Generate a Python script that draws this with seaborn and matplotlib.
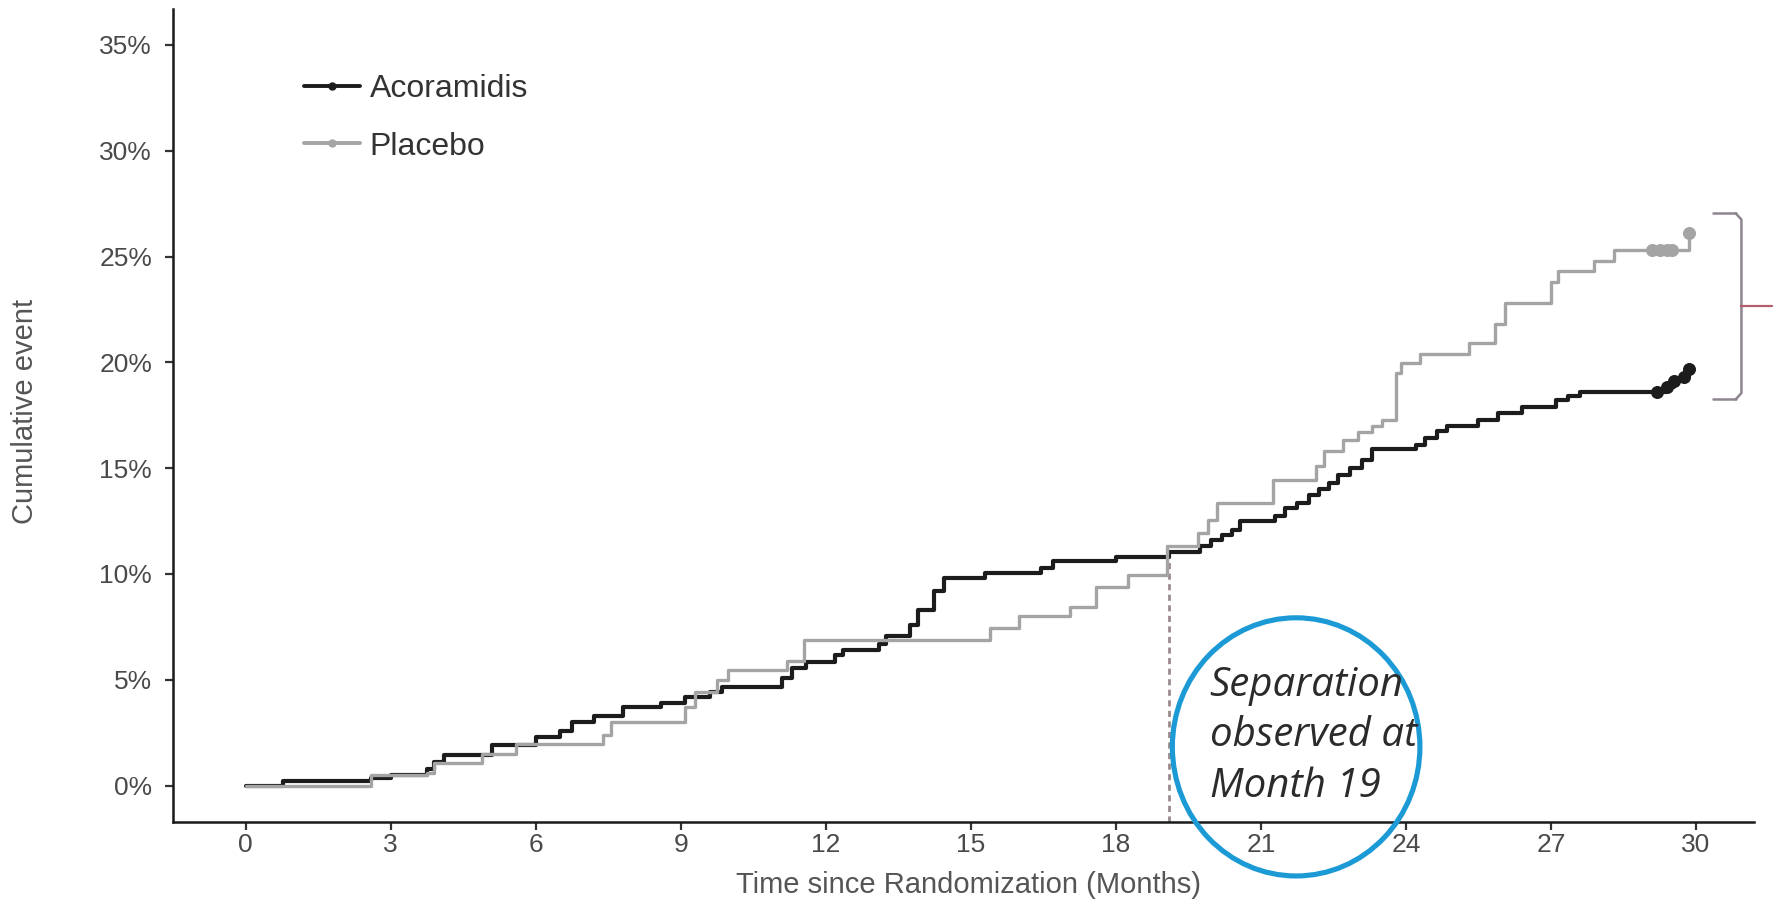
import numpy as np
import pandas as pd
import matplotlib
matplotlib.use("Agg")
import matplotlib.pyplot as plt
from matplotlib.patches import Ellipse
from matplotlib.lines import Line2D
from matplotlib.ticker import FuncFormatter
import seaborn as sns

# Kaplan-Meier cumulative event curves (months, cumulative %)
acor_months = [0, 0.77, 2.6, 3.0, 3.75, 3.9, 4.1, 5.1, 6.0, 6.5, 6.75, 7.2, 7.8, 8.6,
               9.1, 9.6, 9.85, 11.1, 11.3, 11.6, 12.2, 12.35, 13.1, 13.25, 13.75, 13.9,
               14.25, 14.45, 15.3, 16.45, 16.7, 18.0, 19.1, 19.75, 19.97, 20.2, 20.4,
               20.56, 21.3, 21.5, 21.75, 22.0, 22.2, 22.4, 22.6, 22.85, 23.1, 23.3,
               24.2, 24.4, 24.65, 24.85, 25.5, 25.9, 26.4, 27.1, 27.35, 27.6, 29.4,
               29.55, 29.75, 29.85]
acor_cum = [0, 0.23, 0.35, 0.5, 0.8, 1.1, 1.45, 1.9, 2.3, 2.6, 3.0, 3.3, 3.7, 3.9,
            4.2, 4.4, 4.67, 5.1, 5.55, 5.85, 6.15, 6.4, 6.7, 7.05, 7.6, 8.3,
            9.2, 9.8, 10.05, 10.3, 10.6, 10.8, 11.05, 11.3, 11.6, 11.85, 12.1,
            12.5, 12.75, 13.1, 13.35, 13.75, 14.0, 14.3, 14.7, 15.0, 15.4, 15.9,
            16.1, 16.45, 16.75, 17.0, 17.3, 17.6, 17.9, 18.2, 18.4, 18.6, 18.85,
            19.1, 19.3, 19.7]

plac_months = [0, 2.6, 3.75, 3.9, 4.9, 5.6, 7.4, 7.55, 9.1, 9.3, 9.75, 9.97, 11.2,
               11.55, 15.4, 16.0, 17.05, 17.6, 18.25, 19.05, 19.7, 19.9, 20.1, 21.25,
               22.15, 22.3, 22.7, 23.0, 23.3, 23.5, 23.8, 23.9, 24.3, 25.3, 25.85,
               26.05, 27.0, 27.15, 27.9, 28.3, 29.85]
plac_cum = [0, 0.5, 0.6, 1.07, 1.5, 1.95, 2.4, 3.0, 3.7, 4.4, 5.0, 5.45, 5.9,
            6.9, 7.45, 8.0, 8.45, 9.4, 9.95, 11.3, 11.95, 12.55, 13.35, 14.45,
            15.1, 15.8, 16.35, 16.7, 17.0, 17.3, 19.5, 19.95, 20.4, 20.9, 21.8,
            22.8, 23.8, 24.3, 24.8, 25.3, 26.1]

# Censoring marks at the tail of follow-up
acor_cens_months = [29.2, 29.4, 29.55, 29.75, 29.85]
acor_cens_cum = [18.6, 18.85, 19.1, 19.3, 19.7]
plac_cens_months = [29.1, 29.25, 29.4, 29.5, 29.85]
plac_cens_cum = [25.3, 25.3, 25.3, 25.3, 26.1]

arms = ["Acoramidis", "Placebo"]
arm_colors = {"Acoramidis": "#1c1c1c", "Placebo": "#a4a4a4"}
x_ticks = list(range(0, 31, 3))
y_ticks = list(range(0, 36, 5))
separation_month = 19.1
separation_level = 10.9
note_text = "Separation\nobserved at\nMonth 19"

sns.set_theme(style="ticks")
plt.rcParams["font.family"] = ["Liberation Sans", "DejaVu Sans"]

curves = pd.concat([
    pd.DataFrame({"month": acor_months, "cum": acor_cum, "arm": arms[0]}),
    pd.DataFrame({"month": plac_months, "cum": plac_cum, "arm": arms[1]}),
], ignore_index=True)
censored = pd.concat([
    pd.DataFrame({"month": acor_cens_months, "cum": acor_cens_cum, "arm": arms[0]}),
    pd.DataFrame({"month": plac_cens_months, "cum": plac_cens_cum, "arm": arms[1]}),
], ignore_index=True)

fig = plt.figure(figsize=(17.8, 9.08), dpi=100)
ax = fig.add_axes([173 / 1780, 1 - 822 / 908, (1754 - 173) / 1780, (822 - 9) / 908])

# separation marker behind the curves
ax.plot([separation_month, separation_month], [-1.72, separation_level],
        linestyle=(0, (2.2, 1.6)), color="#9a8a8c", linewidth=2.0, zorder=1)

for arm, lw in zip(arms, [3.0, 2.4]):
    sub = curves[curves["arm"] == arm]
    sns.lineplot(data=sub, x="month", y="cum", color=arm_colors[arm],
                 drawstyle="steps-post", estimator=None, sort=False,
                 linewidth=lw, ax=ax, legend=False, zorder=3)
    cs = censored[censored["arm"] == arm]
    sns.scatterplot(data=cs, x="month", y="cum", color=arm_colors[arm],
                    s=70, marker="o", edgecolor=arm_colors[arm], linewidth=1,
                    ax=ax, legend=False, zorder=4)

ax.set_xlim(-1.5, 31.2)
ax.set_ylim(-1.72, 36.7)
ax.set_xticks(x_ticks)
ax.set_yticks(y_ticks)
ax.yaxis.set_major_formatter(FuncFormatter(lambda v, _: f"{v:.0f}%"))

for side in ["top", "right"]:
    ax.spines[side].set_visible(False)
for side in ["left", "bottom"]:
    ax.spines[side].set_linewidth(1.8)
    ax.spines[side].set_color("#1a1a1a")
ax.tick_params(axis="both", length=6, width=1.6, color="#333333",
               labelsize=19, labelcolor="#4a4a4a")
ax.tick_params(axis="y", pad=9)
ax.tick_params(axis="x", pad=2)

ax.set_xlabel("Time since Randomization (Months)", fontsize=21, color="#555555", va="center")
ax.xaxis.set_label_coords((969 - 173) / 1581, (822 - 885) / 813)
ax.set_ylabel("Cumulative event", fontsize=21, color="#555555", va="center", ha="center")
ax.yaxis.set_label_coords((25 - 173) / 1581, (822 - 411) / 813)

handles = [Line2D([0], [0], color=arm_colors[a], linewidth=2.8, marker="o", markersize=5)
           for a in arms]
leg = ax.legend(handles, arms, loc="upper left", bbox_to_anchor=(0.083, 0.92),
                frameon=False, fontsize=23, handlelength=1.75, handletextpad=0.3,
                labelspacing=0.86, borderpad=0, borderaxespad=0)
for t in leg.get_texts():
    t.set_color("#333333")

# callout ellipse and note
ax.add_patch(Ellipse((21.73, 1.83), width=5.12, height=12.2, fill=False,
                     edgecolor="#1b9ad6", linewidth=3.7, clip_on=False, zorder=6))
ax.text(19.94, 2.35, note_text, fontsize=29, style="italic", color="#2b2b2b",
        family=["Open Sans", "DejaVu Sans"], ha="left", va="center",
        linespacing=1.33, zorder=7)

# bracket comparing the two arms at end of follow-up
bx0, bx1, btip = 30.35, 30.94, 31.57
btop, bbot = 27.05, 18.25
bmid = (btop + bbot) / 2
ax.plot([bx0, bx1 - 0.12], [btop, btop], color="#8e8590", lw=1.8, clip_on=False)
ax.plot([bx0, bx1 - 0.12], [bbot, bbot], color="#8e8590", lw=1.8, clip_on=False)
ax.plot([bx1 - 0.12, bx1, bx1, bx1 - 0.12], [btop, btop - 0.3, bbot + 0.3, bbot],
        color="#8e8590", lw=1.8, clip_on=False)
ax.plot([bx1, btip], [bmid, bmid], color="#b25c6c", lw=1.6, clip_on=False)

fig.savefig("out.png", dpi=100, facecolor="white")
